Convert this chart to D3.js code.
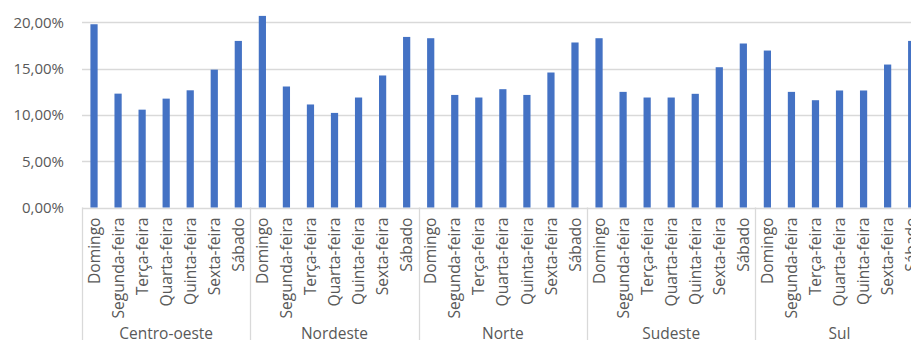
<!DOCTYPE html>
<html>
<head>
<meta charset="utf-8">
<script src="https://cdn.jsdelivr.net/npm/d3@7"></script>
<style>
  body { margin: 0; background: #fff; }
  text { font-family: "Open Sans", "Noto Sans", sans-serif; fill: #595959; }
</style>
</head>
<body>
<svg id="chart" width="911" height="340"></svg>
<script>
// regions and days of the week
var regions = ["Centro-oeste", "Nordeste", "Norte", "Sudeste", "Sul"];
var days = ["Domingo", "Segunda-feira", "Terça-feira", "Quarta-feira", "Quinta-feira", "Sexta-feira", "Sábado"];

// share of records per weekday, one array per region
var centroOeste = [0.1978, 0.1229, 0.1056, 0.1175, 0.1265, 0.1488, 0.1798];
var nordeste    = [0.2068, 0.1306, 0.1112, 0.1021, 0.1187, 0.1425, 0.1841];
var norte       = [0.1827, 0.1215, 0.1187, 0.1277, 0.1215, 0.1457, 0.1781];
var sudeste     = [0.1827, 0.1248, 0.1187, 0.1187, 0.1227, 0.1514, 0.1770];
var sul         = [0.1694, 0.1248, 0.1158, 0.1263, 0.1263, 0.1543, 0.1798];

var yTicks = [0, 0.05, 0.10, 0.15, 0.20];

var series = [centroOeste, nordeste, norte, sudeste, sul];
var data = [];
regions.forEach(function (r, i) {
    days.forEach(function (d, j) {
        data.push({ key: r + "|" + d, region: r, day: d, value: series[i][j] });
    });
});

var svg = d3.select("#chart");
var plotLeft = 82, plotRight = 923.7, plotTop = 22.2, plotBase = 207.5;

var x = d3.scaleBand()
    .domain(data.map(d => d.key))
    .range([plotLeft, plotRight])
    .paddingInner(0.7)
    .paddingOuter(0.35);

var y = d3.scaleLinear()
    .domain([0, 0.20])
    .range([plotBase, plotTop]);

var fmt = v => d3.format(".2f")(v * 100).replace(".", ",") + "%";

// gridlines
svg.append("g").selectAll("line")
    .data(yTicks)
    .enter().append("line")
    .attr("x1", plotLeft).attr("x2", 911)
    .attr("y1", d => Math.round(y(d)) + 0.5)
    .attr("y2", d => Math.round(y(d)) + 0.5)
    .style("stroke", "#d9d9d9")
    .style("stroke-width", 1.3);

// y labels
svg.append("g").selectAll("text")
    .data(yTicks)
    .enter().append("text")
    .attr("x", 64)
    .attr("y", d => y(d))
    .attr("dy", "0.36em")
    .attr("text-anchor", "end")
    .style("font-size", "15px")
    .text(fmt);

// bars
svg.append("g").selectAll("rect")
    .data(data)
    .enter().append("rect")
    .attr("x", d => x(d.key))
    .attr("width", x.bandwidth())
    .attr("y", d => y(d.value))
    .attr("height", d => y(0) - y(d.value))
    .style("fill", "#4472c4");

// group separators
var step = x.step();
var bounds = d3.range(regions.length + 1).map(i => plotLeft + i * days.length * step);
svg.append("g").selectAll("line")
    .data(bounds)
    .enter().append("line")
    .attr("x1", d => Math.round(d) + 0.5).attr("x2", d => Math.round(d) + 0.5)
    .attr("y1", plotBase).attr("y2", 340)
    .style("stroke", "#d9d9d9")
    .style("stroke-width", 1.3);

// day labels
svg.append("g").selectAll("text")
    .data(data)
    .enter().append("text")
    .attr("transform", d => "translate(" + (x(d.key) + x.bandwidth() / 2) + ",217.5) rotate(-90)")
    .attr("dy", "0.36em")
    .attr("text-anchor", "end")
    .style("font-size", "15.6px")
    .text(d => d.day);

// region labels
svg.append("g").selectAll("text")
    .data(regions)
    .enter().append("text")
    .attr("x", (d, i) => (bounds[i] + bounds[i + 1]) / 2)
    .attr("y", 339)
    .attr("text-anchor", "middle")
    .style("font-size", "15.5px")
    .text(d => d);
</script>
</body>
</html>
